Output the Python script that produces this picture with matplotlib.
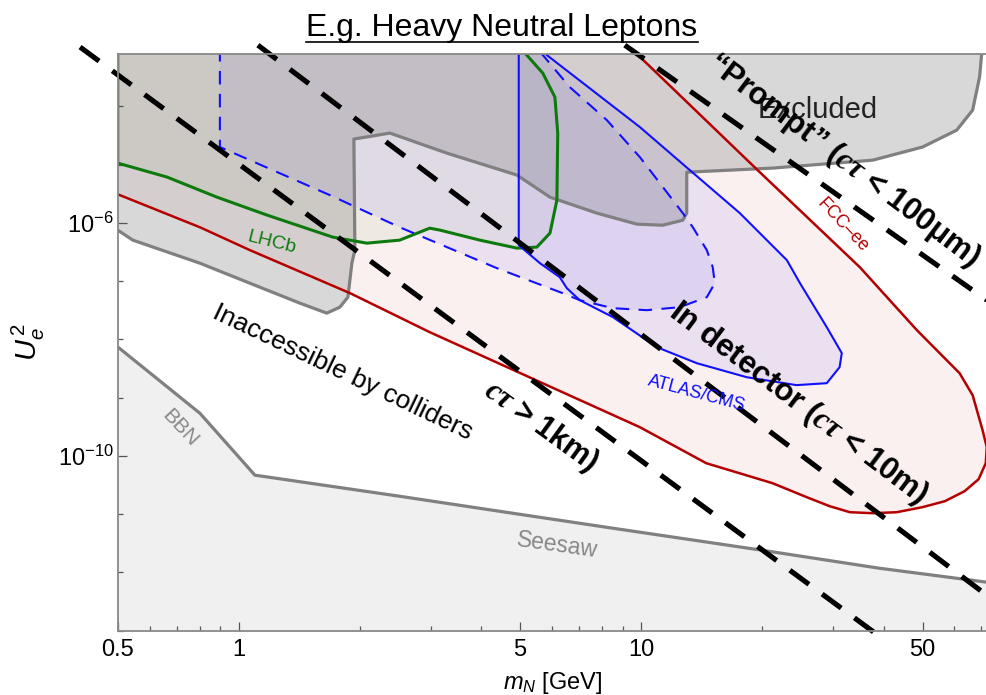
import matplotlib
matplotlib.use("Agg")
import matplotlib.pyplot as plt
from matplotlib.ticker import FixedLocator, FixedFormatter, NullFormatter
from matplotlib.lines import Line2D

plt.rcParams['font.family'] = ['Liberation Sans', 'DejaVu Sans']
plt.rcParams['mathtext.fontset'] = 'custom'
plt.rcParams['mathtext.rm'] = 'Liberation Sans'
plt.rcParams['mathtext.it'] = 'Liberation Sans:italic'
plt.rcParams['mathtext.bf'] = 'Liberation Serif:italic:bold'

# ---------------- data (mass in GeV, U_e^2) ----------------
excl_mass = [0.49, 0.5, 0.545, 0.80, 1.065, 1.418, 1.654, 1.782, 1.866, 1.909, 1.942, 1.931,
             2.373, 3.29, 4.91, 5.93, 7.75, 9.75, 11.3, 12.68, 12.97, 12.97, 21.2, 37.6,
             50.0, 60.8, 66.6, 69.3, 70.5]
excl_u2 = [7.6e-7, 7.5e-7, 5.05e-7, 2.03e-7, 9.2e-8, 4.18e-8, 2.82e-8, 3.57e-8, 5.3e-8, 2.03e-7,
           3.4e-7, 2.74e-5, 3.47e-5, 1.57e-5, 6.6e-6, 2.76e-6, 1.47e-6, 9.5e-7, 9.1e-7, 1.11e-6,
           1.47e-6, 7.4e-6, 8.7e-6, 1.19e-5, 2.0e-5, 3.9e-5, 8.6e-5, 3.2e-4, 1.2e-3]

lhcb_mass = [0.5, 0.5, 0.663, 0.882, 1.174, 1.712, 2.08, 2.51, 2.98, 3.16, 3.97, 4.91, 5.50,
             5.93, 6.17, 6.20, 6.10, 5.69, 5.19, 4.99]
lhcb_u2 = [1.0e-3, 1.06e-5, 6.1e-6, 2.76e-6, 1.36e-6, 5.68e-7, 4.48e-7, 5.05e-7, 8.1e-7, 7.5e-7,
           5.05e-7, 3.68e-7, 3.83e-7, 6.65e-7, 2.45e-6, 3.47e-5, 1.44e-4, 3.72e-4, 7.6e-4, 1.0e-3]

fcc_mass = [9.36, 19.7, 34.9, 48.4, 61.8, 66.6, 70.5, 72.2, 71.8, 68.9, 63.6, 56.8, 50.0, 43.1,
            37.6, 33.0, 29.4, 25.8, 21.2, 14.5, 9.92, 2.98, 1.89, 1.065, 0.80, 0.478]
fcc_u2 = [1.04e-3, 7.4e-6, 1.74e-7, 1.44e-8, 2.63e-9, 1.10e-9, 2.76e-10, 1.41e-10, 7.5e-11,
          3.98e-11, 2.48e-11, 1.67e-11, 1.32e-11, 1.08e-11, 1.04e-11, 1.08e-11, 1.37e-11,
          1.95e-11, 3.40e-11, 7.5e-11, 3.11e-10, 1.33e-8, 6.2e-8, 3.4e-7, 8.4e-7, 3.5e-6]

proj_mass = [0.897, 0.897, 1.683, 2.51, 4.375, 6.38, 7.03, 8.50, 10.32, 12.46, 14.55, 15.23,
             15.05, 14.55, 13.43, 12.68, 11.12, 9.92, 8.21, 6.64, 5.69, 5.53]
proj_u2 = [1e-3, 2.0e-5, 2.99e-6, 8.4e-7, 1.67e-7, 6.2e-8, 4.71e-8, 3.43e-8, 3.17e-8, 3.57e-8,
           5.3e-8, 9.2e-8, 1.74e-7, 3.4e-7, 8.4e-7, 1.47e-6, 4.8e-6, 1.34e-5, 5.8e-5, 2.14e-4,
           7.6e-4, 1e-3]

atlas_mass = [4.96, 4.96, 5.60, 6.27, 6.53, 7.03, 8.50, 10.93, 13.74, 18.29, 24.3, 28.9, 31.1,
              31.5, 28.9, 24.8, 23.0, 17.57, 13.2, 9.92, 5.82, 5.76]
atlas_u2 = [1e-3, 4.14e-7, 2.03e-7, 1.17e-7, 7.57e-8, 4.71e-8, 2.41e-8, 7.35e-9, 3.9e-9, 2.24e-9,
            1.64e-9, 1.77e-9, 3.33e-9, 5.8e-9, 1.62e-8, 9.2e-8, 2.29e-7, 1.47e-6, 8.03e-6,
            4.4e-5, 7.6e-4, 1e-3]

bbn_mass = [0.49, 0.80, 1.006, 1.096, 2.51, 4.45, 8.50, 20.0, 39.1, 72.3]
bbn_u2 = [8.3e-9, 5.4e-10, 9.1e-11, 4.67e-11, 2.03e-11, 1.12e-11, 5.74e-12, 2.4e-12, 1.18e-12,
          6.8e-13]

ctau_1km_mass = [0.403, 40.3]
ctau_1km_u2 = [1.04e-3, 6.85e-14]
ctau_10m_mass = [1.115, 72.2]
ctau_10m_u2 = [1.12e-3, 4.06e-13]
ctau_100um_mass = [9.10, 72.2]
ctau_100um_u2 = [1.12e-3, 4.71e-8]

x_major = [0.5, 1, 5, 10, 50]
x_major_labels = ['0.5', '1', '5', '10', '50']
x_minor = [0.6, 0.7, 0.8, 0.9, 2, 3, 4, 6, 7, 8, 9, 20, 30, 40, 60, 70]
y_major = [1e-10, 1e-6]
y_major_labels = [r'$10^{-10}$', r'$10^{-6}$']
y_minor = [1e-13, 1e-12, 1e-11, 1e-9, 1e-8, 1e-7, 1e-5, 1e-4]

XMIN, XMAX = 0.5, 72.3
YMIN, YMAX = 1e-13, 7.9e-4

# ---------------- figure ----------------
fig = plt.figure(figsize=(9.87, 6.95), dpi=100)
ax = fig.add_axes([0.1193, 0.0925, 0.8807, 0.8298])
ax.set_xscale('log')
ax.set_yscale('log')
ax.set_xlim(XMIN, XMAX)
ax.set_ylim(YMIN, YMAX)

top = 2e-3
# fills
ax.fill(fcc_mass + [0.478], fcc_u2 + [top], facecolor=(0.72, 0.0, 0.0), alpha=0.06, lw=0, zorder=1)
ax.fill(lhcb_mass, lhcb_u2, facecolor=(0.35, 0.6, 0.25), alpha=0.07, lw=0, zorder=1.1)
ax.fill(proj_mass, proj_u2, facecolor=(0.45, 0.4, 0.95), alpha=0.11, lw=0, zorder=1.2)
ax.fill(atlas_mass, atlas_u2, facecolor=(0.45, 0.4, 0.95), alpha=0.11, lw=0, zorder=1.3)
ax.fill(excl_mass + [0.49], excl_u2 + [top], facecolor=(0.5, 0.5, 0.5), alpha=0.30, lw=0, zorder=1.4)
ax.fill(bbn_mass + [bbn_mass[-1], bbn_mass[0]], bbn_u2 + [1e-14, 1e-14],
        facecolor='#f0f0f0', lw=0, zorder=1.5)

# boundary lines
gray = '#808080'
ax.plot(bbn_mass, bbn_u2, color=gray, lw=2.3, zorder=3, solid_joinstyle='round')
ax.plot(excl_mass, excl_u2, color=gray, lw=2.3, zorder=3, solid_joinstyle='round')
ax.plot(fcc_mass, fcc_u2, color='#b40000', lw=1.8, zorder=3.2, solid_joinstyle='round')
ax.plot(lhcb_mass, lhcb_u2, color='#0e7a0e', lw=2.2, zorder=3.3, solid_joinstyle='round')
ax.plot(atlas_mass, atlas_u2, color='#1010ff', lw=1.5, zorder=3.4, solid_joinstyle='round')
ax.plot(proj_mass, proj_u2, color='#1010ff', lw=1.5, zorder=3.4, linestyle=(0, (6.5, 4.5)))

# lifetime lines (extend beyond axes)
for xs, ys in [(ctau_1km_mass, ctau_1km_u2), (ctau_10m_mass, ctau_10m_u2),
               (ctau_100um_mass, ctau_100um_u2)]:
    ax.plot(xs, ys, color='black', lw=3.7, linestyle=(0, (4.6, 3.2)),
            dash_capstyle='butt', zorder=5, clip_on=False)

# axes styling
for s in ['left', 'bottom', 'top']:
    ax.spines[s].set_color('#888888')
    ax.spines[s].set_linewidth(1.3)
    ax.spines[s].set_zorder(6)
ax.spines['right'].set_visible(False)

ax.xaxis.set_major_locator(FixedLocator(x_major))
ax.xaxis.set_major_formatter(FixedFormatter(x_major_labels))
ax.xaxis.set_minor_locator(FixedLocator(x_minor))
ax.xaxis.set_minor_formatter(NullFormatter())
ax.yaxis.set_major_locator(FixedLocator(y_major))
ax.yaxis.set_major_formatter(FixedFormatter(y_major_labels))
ax.yaxis.set_minor_locator(FixedLocator(y_minor))
ax.yaxis.set_minor_formatter(NullFormatter())
ax.tick_params(which='both', direction='in', color='#555555', width=0.9,
               top=False, right=False, labelsize=17)
ax.tick_params(which='major', length=6.5)
ax.tick_params(which='minor', length=3.8)
ax.tick_params(axis='x', pad=6)
ax.tick_params(axis='y', pad=3)

ax.set_xlabel(r'$m_N$ [GeV]', fontsize=17)
ax.xaxis.set_label_coords(0.5, -0.068)
ax.set_ylabel(r'$U_e^{\,2}$', fontsize=21)
ax.yaxis.set_label_coords(-0.081, 0.5)

# labels
ax.text(27.4, 8.6e-5, 'Excluded', fontsize=21, color='#222222', ha='center', va='center', zorder=4)
ax.text(31.7, 1.19e-5, r'“Prompt” ($\mathbf{c\tau}$ < 100μm)', fontsize=22.5, fontweight='bold',
        rotation=-37, ha='center', va='center', rotation_mode='anchor', zorder=7)
ax.text(24.5, 8.0e-10, r'In detector ($\mathbf{c\tau}$ < 10m)', fontsize=22.5, fontweight='bold',
        rotation=-37, ha='center', va='center', rotation_mode='anchor', zorder=7)
ax.text(5.63, 3.23e-10, r'$\mathbf{c\tau}$ > 1km)', fontsize=22, fontweight='bold',
        rotation=-36, ha='center', va='center', rotation_mode='anchor', zorder=7)
ax.text(1.813, 2.73e-9, 'Inaccessible by colliders', fontsize=19,
        rotation=-25.5, ha='center', va='center', rotation_mode='anchor', zorder=7)
ax.text(1.208, 4.48e-7, 'LHCb', fontsize=14, color='#0e7a0e',
        rotation=-14, ha='center', va='center', rotation_mode='anchor', zorder=7)
ax.text(31.7, 9.1e-7, 'FCC–ee', fontsize=13, color='#b40000',
        rotation=-47, ha='center', va='center', rotation_mode='anchor', zorder=7)
ax.text(13.74, 1.15e-9, 'ATLAS/CMS', fontsize=13, color='#1010ff',
        rotation=-15, ha='center', va='center', rotation_mode='anchor', zorder=7)
ax.text(0.713, 2.99e-10, 'BBN', fontsize=15, color='#888888',
        rotation=-47, ha='center', va='center', rotation_mode='anchor', zorder=7)
ax.text(6.17, 2.93e-12, 'Seesaw', fontsize=16.5, color='#888888',
        rotation=-8, ha='center', va='center', rotation_mode='anchor', zorder=7)

# title with underline
title = fig.text(502 / 987, 1 - 36 / 695, 'E.g. Heavy Neutral Leptons', fontsize=23,
                 ha='center', va='baseline')
fig.canvas.draw()
bb = title.get_window_extent(renderer=fig.canvas.get_renderer())
inv = fig.transFigure.inverted()
(x0, _), (x1, _) = inv.transform([(bb.x0, 0), (bb.x1, 0)])
yl = 1 - 42 / 695
fig.add_artist(Line2D([x0, x1], [yl, yl], color='black', lw=1.2, transform=fig.transFigure))

fig.savefig('out.png', dpi=100)
